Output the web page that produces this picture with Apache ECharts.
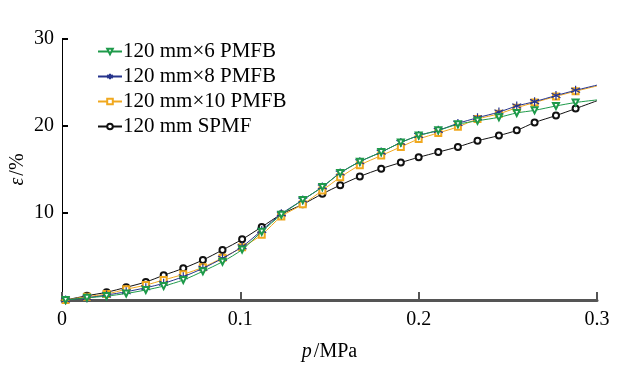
<!DOCTYPE html>
<html>
<head>
<meta charset="utf-8">
<script src="https://cdn.jsdelivr.net/npm/echarts@6/dist/echarts.min.js"></script>
<style>html,body{margin:0;padding:0;background:#fff}#c{width:621px;height:366px}</style>
</head>
<body>
<div id="c"></div>
<script>
var pressure = [0.002, 0.014, 0.025, 0.036, 0.047, 0.057, 0.068, 0.079, 0.090, 0.101, 0.112, 0.123, 0.135, 0.146, 0.156, 0.167, 0.179, 0.190, 0.200, 0.211, 0.222, 0.233, 0.245, 0.255, 0.265, 0.277, 0.288, 0.300];
var strain6 = [0, 0.25, 0.45, 0.75, 1.15, 1.6, 2.3, 3.3, 4.4, 5.8, 7.85, 9.8, 11.5, 13.0, 14.6, 15.9, 17.0, 18.1, 18.9, 19.5, 20.2, 20.6, 21.0, 21.5, 21.8, 22.3, 22.7, 23.0];
var strain8 = [0, 0.26, 0.57, 0.95, 1.41, 1.92, 2.68, 3.64, 4.79, 6.13, 8.0, 9.9, 11.5, 13.0, 14.6, 15.9, 17.0, 18.1, 18.9, 19.5, 20.3, 20.95, 21.6, 22.3, 22.8, 23.5, 24.1, 24.7];
var strain10 = [0, 0.38, 0.69, 1.23, 1.72, 2.3, 2.95, 3.76, 4.85, 6.06, 7.5, 9.6, 11.0, 12.6, 14.1, 15.5, 16.6, 17.6, 18.5, 19.2, 19.9, 20.8, 21.4, 22.1, 22.7, 23.4, 24.0, 24.6];
var strainSPMF = [0, 0.49, 0.89, 1.46, 2.07, 2.84, 3.64, 4.6, 5.75, 6.97, 8.4, 9.85, 11.0, 12.2, 13.2, 14.2, 15.1, 15.8, 16.4, 17.0, 17.6, 18.3, 18.9, 19.5, 20.4, 21.2, 22.0, 22.9];
var seriesNames = ['120 mm×6 PMFB', '120 mm×8 PMFB', '120 mm×10 PMFB', '120 mm SPMF'];
var xTicks = [0, 0.1, 0.2, 0.3];
var yTicks = [0, 10, 20, 30];

function pairs(ys) {
  return pressure.map(function (p, i) {
    var d = { value: [p, ys[i]] };
    if (i === pressure.length - 1) d.symbol = 'none';
    return d;
  });
}
var FONT = '"Liberation Serif", "Times New Roman", serif';
var FS = 20;
var asterisk = 'path://M0,-10L0,10M-8.66,-5L8.66,5M-8.66,5L8.66,-5';

function mk(name, ys, color, symbol, rot, z) {
  var isAst = symbol === asterisk;
  return {
    name: name, type: 'line', data: pairs(ys), smooth: 0.3,
    symbol: symbol, symbolSize: isAst ? 9 : 6, symbolRotate: rot || 0,
    showSymbol: true, z: z,
    lineStyle: { color: color, width: 1 },
    itemStyle: isAst ? { color: color, borderColor: color, borderWidth: 1.2 } : { color: color, borderColor: color, borderWidth: 1 },
    emphasis: { disabled: true }
  };
}

var chart = echarts.init(document.getElementById('c'), null, { renderer: 'canvas' });
chart.setOption({
  animation: false,
  backgroundColor: '#fff',
  textStyle: { fontFamily: FONT },
  grid: { left: 62, right: 24, top: 39, bottom: 66, containLabel: false, outerBoundsMode: 'none' },
  legend: {
    left: 92, top: 36, orient: 'vertical', itemGap: 4, itemWidth: 24, itemHeight: 7,
    textStyle: { fontFamily: FONT, fontSize: 21, color: '#000', padding: [0, 0, 0, -4] },
    data: seriesNames.map(function (n) { return { name: n }; })
  },
  xAxis: {
    type: 'value', min: 0, max: 0.3, interval: 0.1,
    name: '{i|p}/MPa', nameLocation: 'middle', nameGap: 42,
    nameTextStyle: { fontFamily: FONT, fontSize: FS, color: '#000', rich: { i: { fontFamily: FONT, fontStyle: 'italic', fontSize: FS, color: '#000', padding: [0, 2, 0, 0] } } },
    axisLine: { show: true, lineStyle: { color: '#555', width: 3 } },
    axisTick: { show: true, inside: true, length: 8, lineStyle: { color: '#555', width: 2 } },
    axisLabel: { fontFamily: FONT, fontSize: FS, color: '#000', margin: 10,
      formatter: function (v) { return v === 0 ? '0' : v.toFixed(1); } },
    splitLine: { show: false }
  },
  yAxis: {
    type: 'value', min: 0, max: 30, interval: 10,
    name: '{i|ε}/%', nameLocation: 'middle', nameGap: 34, nameMoveOverlap: false,
    nameTextStyle: { fontFamily: FONT, fontSize: FS, color: '#000', rich: { i: { fontFamily: FONT, fontStyle: 'italic', fontSize: FS, color: '#000', padding: [0, 2, 0, 0] } } },
    axisLine: { show: true, lineStyle: { color: '#000', width: 1 } },
    axisTick: { show: true, inside: true, length: 6, lineStyle: { color: '#000', width: 2 } },
    axisLabel: { fontFamily: FONT, fontSize: FS, color: '#000', margin: 8,
      formatter: function (v) { return v === 0 ? '' : String(v); } },
    splitLine: { show: false }
  },
  series: [
    mk(seriesNames[0], strain6, '#1e9a4a', 'emptyTriangle', 180, 5),
    mk(seriesNames[1], strain8, '#26348c', asterisk, 0, 4),
    mk(seriesNames[2], strain10, '#f0a81e', 'emptyRect', 0, 3),
    mk(seriesNames[3], strainSPMF, '#111111', 'emptyCircle', 0, 2)
  ]
});
</script>
</body>
</html>
